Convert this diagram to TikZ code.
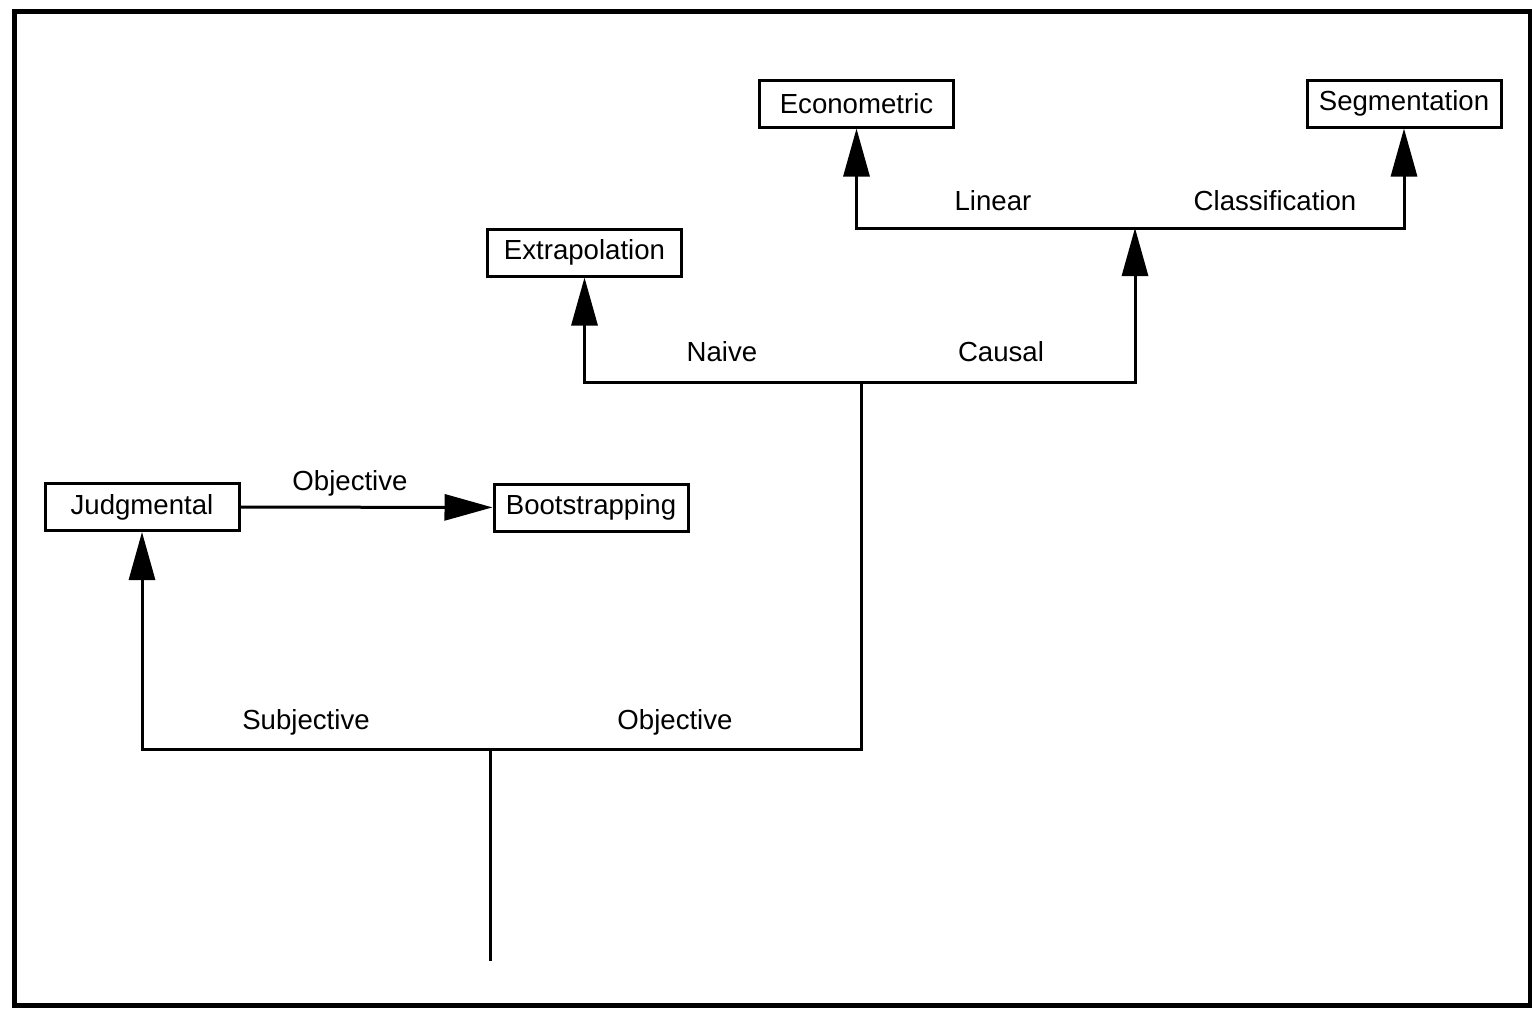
\documentclass[tikz,border=0pt]{standalone}
\usepackage{fontspec}
\setmainfont{Liberation Sans}
\usetikzlibrary{arrows.meta}
\tikzset{
  method/.style={draw, line width=1.5pt, minimum width=97pt, minimum height=23.5pt,
    inner sep=0pt, font=\fontsize{13.8}{16}\selectfont},
  branch/.style={font=\fontsize{13.8}{16}\selectfont},
  link/.style={line width=1.5pt},
  arr/.style={link, -{Triangle[length=24pt,width=13pt]}}
}
\begin{document}
\begin{tikzpicture}[x=0.5pt, y=-0.5pt]
    \useasboundingbox (0,0) rectangle (1532,1012);
    \draw[line width=2.5pt] (14.5,11) rectangle (1530,1005.5);
    % methods
    \node[method] (econ) at (856.5,103.5) {Econometric};
    \node[method] (segm) at (1404,103.5) {Segmentation};
    \node[method] (extra) at (584.5,252.5) {Extrapolation};
    \node[method] (judg) at (142,507) {Judgmental};
    \node[method] (boot) at (591,507.5) {Bootstrapping};
    % branch points
    \coordinate (root) at (490,961);
    \coordinate (fork1) at (490,749);
    \coordinate (fork2) at (861,382);
    \coordinate (fork3) at (1135,228);
    % tree
    \draw[link] (root) -- (fork1);
    \draw[arr] (fork1) -| (judg.south);
    \draw[link] (fork1) -| (fork2);
    \draw[arr] (fork2) -| (extra.south);
    \draw[arr] (fork2) -| (fork3);
    \draw[arr] (fork3) -| (econ.south);
    \draw[arr] (fork3) -| (segm.south);
    \draw[arr] (judg) -- (boot);
    % labels
    \node[branch] (objtop) at (350,483) {Objective};
    \node[branch] (subj) at (306,722) {Subjective};
    \node[branch] (obj) at (675,722) {Objective};
    \node[branch] (naive) at (722,352) {Naive};
    \node[branch] (causal) at (1001,352) {Causal};
    \node[branch] (linear) at (993,201) {Linear};
    \node[branch] (classif) at (1275,201) {Classification};
\end{tikzpicture}
\end{document}
